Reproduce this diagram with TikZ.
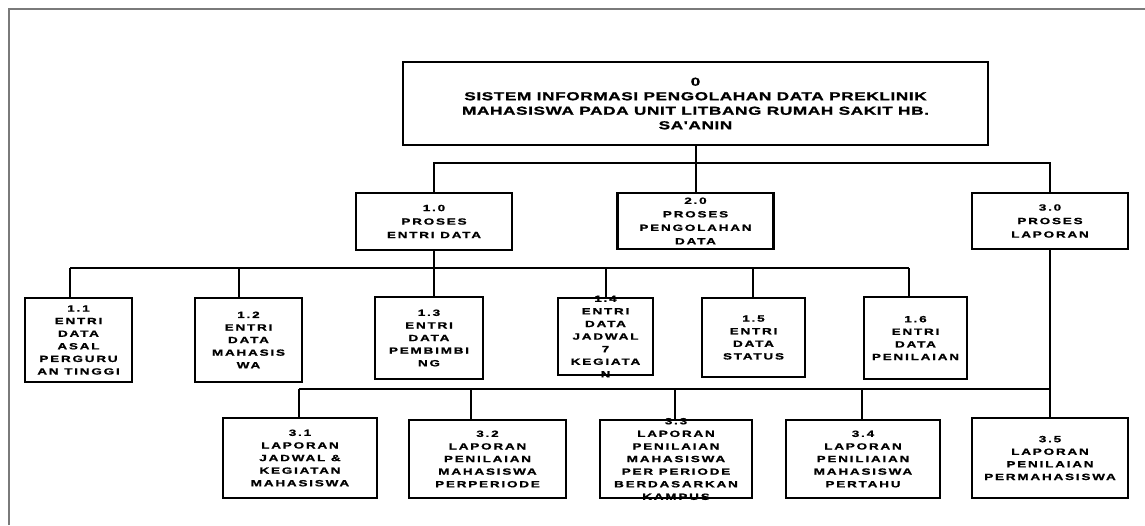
\documentclass[tikz,border=0pt]{standalone}
\usepackage{fontspec}
\setmainfont{Liberation Sans}
% wide, letter-spaced heavy faces for the chart labels
\newfontfamily\titlefont[FakeStretch=1.5,LetterSpace=5,FakeBold=1.2]{Liberation Sans Bold}
\newfontfamily\boxfont[FakeStretch=1.5,LetterSpace=20,FakeBold=1.2]{Liberation Sans Bold}
\definecolor{framegray}{HTML}{7A7A7A}
\begin{document}
\begin{tikzpicture}[x=1pt,y=-1pt,
  box/.style={draw=black, line width=2.4pt, fill=white, inner sep=0pt},
  wire/.style={draw=black, line width=2pt},
  titletxt/.style={font=\titlefont\fontsize{11.5}{14.5}\selectfont, align=center, inner sep=0pt},
  midtxt/.style={font=\boxfont\fontsize{9}{13.5}\selectfont, align=center, inner sep=0pt},
  lbl/.style={font=\boxfont\fontsize{9}{12.6}\selectfont, align=center, inner sep=0pt}]
\useasboundingbox (0,0) rectangle (1145,525);
% outer frame (open to the right and bottom)
\draw[framegray, line width=2.6pt] (9,525) -- (9,9) -- (1145,9);

% level 0
\node[box, minimum width=585pt, minimum height=83pt] (root) at (695.5,103.5) {};
\node[titletxt] at (root.center) {0\\SISTEM INFORMASI PENGOLAHAN DATA PREKLINIK\\MAHASISWA PADA UNIT LITBANG RUMAH SAKIT HB.\\SA'ANIN};

% level 1
\node[box, minimum width=156pt, minimum height=57pt] (b10) at (434,221.5) {};
\node[midtxt] at (b10.center) {1.0\\PROSES\\ENTRI DATA};
\node[box, minimum width=156pt, minimum height=56pt] (b20) at (695.5,221) {};
\node[midtxt] at (b20.center) {2.0\\PROSES\\PENGOLAHAN\\DATA};
\node[box, minimum width=156pt, minimum height=56pt] (b30) at (1050,221) {};
\node[midtxt] at (b30.center) {3.0\\PROSES\\LAPORAN};

% children of 1.0
\node[box, minimum width=107pt, minimum height=84pt] (b11) at (78.5,340) {};
\node[lbl] at (b11.center) {1.1\\ENTRI\\DATA\\ASAL\\PERGURU\\AN TINGGI};
\node[box, minimum width=107pt, minimum height=84pt] (b12) at (248.5,340) {};
\node[lbl] at (b12.center) {1.2\\ENTRI\\DATA\\MAHASIS\\WA};
\node[box, minimum width=108pt, minimum height=82pt] (b13) at (429,338) {};
\node[lbl] at (b13.center) {1.3\\ENTRI\\DATA\\PEMBIMBI\\NG};
\node[box, minimum width=95pt, minimum height=77pt] (b14) at (605.5,336.5) {};
\node[lbl] at (b14.center) {1.4\\ENTRI\\DATA\\JADWAL\\7\\KEGIATA\\N};
\node[box, minimum width=103pt, minimum height=79pt] (b15) at (753.5,337.5) {};
\node[lbl] at (b15.center) {1.5\\ENTRI\\DATA\\STATUS};
\node[box, minimum width=103pt, minimum height=82pt] (b16) at (915.5,338) {};
\node[lbl] at (b16.center) {1.6\\ENTRI\\DATA\\PENILAIAN};

% children of 3.0
\node[box, minimum width=154pt, minimum height=80pt] (b31) at (300,458) {};
\node[lbl] at (b31.center) {3.1\\LAPORAN\\JADWAL \&\\KEGIATAN\\MAHASISWA};
\node[box, minimum width=157pt, minimum height=78pt] (b32) at (487.5,459) {};
\node[lbl] at (b32.center) {3.2\\LAPORAN\\PENILAIAN\\MAHASISWA\\PERPERIODE};
\node[box, minimum width=152pt, minimum height=78pt] (b33) at (676,459) {};
\node[lbl] at (b33.center) {3.3\\LAPORAN\\PENILAIAN\\MAHASISWA\\PER PERIODE\\BERDASARKAN\\KAMPUS};
\node[box, minimum width=154pt, minimum height=78pt] (b34) at (863,459) {};
\node[lbl] at (b34.center) {3.4\\LAPORAN\\PENILIAIAN\\MAHASISWA\\PERTAHU};
\node[box, minimum width=156pt, minimum height=80pt] (b35) at (1050,458) {};
\node[lbl] at (b35.center) {3.5\\LAPORAN\\PENILAIAN\\PERMAHASISWA};

% connectors: level 0 -> level 1
\coordinate (t) at (695.5,163);
\draw[wire] (root.south) -- (t);
\draw[wire] (b10.north) |- (t) -| (b30.north);
\draw[wire] (t) -- (b20.north);

% connectors: 1.0 -> 1.x
\coordinate (e1) at (70,268);
\coordinate (e2) at (239,268);
\coordinate (e3) at (434,268);
\coordinate (e4) at (606,268);
\coordinate (e5) at (753,268);
\coordinate (e6) at (909,268);
\draw[wire] (b10.south) -- (e3);
\draw[wire] (e1) -- (e6);
\draw[wire] (e1) -- (e1 |- b11.north);
\draw[wire] (e2) -- (e2 |- b12.north);
\draw[wire] (e3) -- (e3 |- b13.north);
\draw[wire] (e4) -- (e4 |- b14.north);
\draw[wire] (e5) -- (e5 |- b15.north);
\draw[wire] (e6) -- (e6 |- b16.north);

% connectors: 3.0 -> 3.x
\draw[wire] (b30.south) -- (b35.north);
\coordinate (f1) at (299,389);
\coordinate (f2) at (471,389);
\coordinate (f3) at (675,389);
\coordinate (f4) at (862,389);
\coordinate (f5) at (1050,389);
\draw[wire] (f1) -- (f5);
\draw[wire] (f1) -- (f1 |- b31.north);
\draw[wire] (f2) -- (f2 |- b32.north);
\draw[wire] (f3) -- (f3 |- b33.north);
\draw[wire] (f4) -- (f4 |- b34.north);
\end{tikzpicture}
\end{document}
